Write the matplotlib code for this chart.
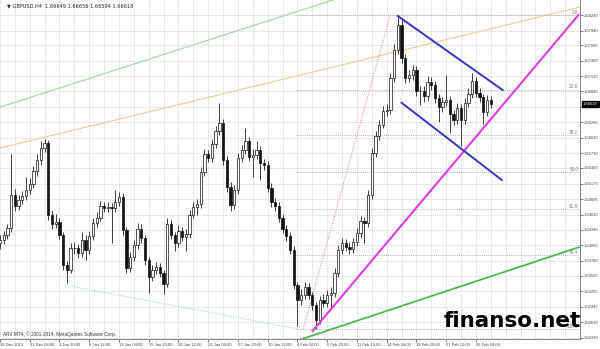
import matplotlib
matplotlib.use("Agg")
import matplotlib.pyplot as plt
import matplotlib.transforms as mtransforms

# GBPUSD, one candle per 8 hours (two H4 bars)
close = [1.6416, 1.6425, 1.6437, 1.6497, 1.6477, 1.6488, 1.6495, 1.6506, 1.6517, 1.6541,
         1.6560, 1.6582, 1.6591, 1.6461, 1.6445, 1.6448, 1.6425, 1.6370, 1.6361, 1.6401,
         1.6401, 1.6392, 1.6416, 1.6398, 1.6423, 1.6446, 1.6456, 1.6477, 1.6474, 1.6475,
         1.6474, 1.6484, 1.6493, 1.6434, 1.6365, 1.6385, 1.6407, 1.6436, 1.6419, 1.6379,
         1.6349, 1.6361, 1.6367, 1.6356, 1.6336, 1.6445, 1.6425, 1.6410, 1.6432, 1.6421,
         1.6427, 1.6461, 1.6475, 1.6481, 1.6539, 1.6571, 1.6564, 1.6589, 1.6613, 1.6627,
         1.6560, 1.6512, 1.6479, 1.6506, 1.6564, 1.6579, 1.6595, 1.6566, 1.6570, 1.6579,
         1.6555, 1.6551, 1.6510, 1.6484, 1.6477, 1.6456, 1.6436, 1.6423, 1.6398, 1.6334,
         1.6307, 1.6316, 1.6331, 1.6316, 1.6298, 1.6271, 1.6307, 1.6302, 1.6316, 1.6320,
         1.6356, 1.6398, 1.6410, 1.6403, 1.6399, 1.6412, 1.6428, 1.6450, 1.6446, 1.6497,
         1.6573, 1.6604, 1.6624, 1.6649, 1.6651, 1.6709, 1.6760, 1.6805, 1.6745, 1.6709,
         1.6714, 1.6723, 1.6685, 1.6685, 1.6676, 1.6702, 1.6696, 1.6673, 1.6656, 1.6665,
         1.6669, 1.6644, 1.6633, 1.6655, 1.6633, 1.6664, 1.6680, 1.6703, 1.6682, 1.6674,
         1.6647, 1.6669, 1.6662]
high = [1.6425, 1.6432, 1.6445, 1.6571, 1.6508, 1.6497, 1.6505, 1.6530, 1.6527, 1.6550,
        1.6572, 1.6595, 1.6598, 1.6597, 1.6470, 1.6462, 1.6455, 1.6430, 1.6378, 1.6410,
        1.6412, 1.6408, 1.6430, 1.6424, 1.6432, 1.6455, 1.6466, 1.6487, 1.6485, 1.6484,
        1.6483, 1.6506, 1.6502, 1.6500, 1.6440, 1.6394, 1.6416, 1.6446, 1.6445, 1.6425,
        1.6385, 1.6370, 1.6376, 1.6374, 1.6362, 1.6456, 1.6452, 1.6430, 1.6442, 1.6440,
        1.6436, 1.6470, 1.6484, 1.6490, 1.6548, 1.6580, 1.6578, 1.6598, 1.6622, 1.6664,
        1.6634, 1.6568, 1.6520, 1.6515, 1.6573, 1.6588, 1.6618, 1.6602, 1.6580, 1.6595,
        1.6586, 1.6563, 1.6558, 1.6518, 1.6492, 1.6484, 1.6463, 1.6443, 1.6430, 1.6405,
        1.6340, 1.6326, 1.6340, 1.6338, 1.6322, 1.6304, 1.6315, 1.6318, 1.6325, 1.6330,
        1.6365, 1.6407, 1.6420, 1.6418, 1.6412, 1.6420, 1.6437, 1.6459, 1.6458, 1.6506,
        1.6582, 1.6613, 1.6633, 1.6658, 1.6662, 1.6718, 1.6770, 1.6822, 1.6815, 1.6752,
        1.6723, 1.6733, 1.6730, 1.6695, 1.6694, 1.6712, 1.6710, 1.6704, 1.6680, 1.6674,
        1.6715, 1.6676, 1.6650, 1.6664, 1.6662, 1.6673, 1.6690, 1.6718, 1.6710, 1.6690,
        1.6680, 1.6678, 1.6676]
low = [1.6400, 1.6408, 1.6418, 1.6430, 1.6468, 1.6470, 1.6480, 1.6488, 1.6498, 1.6510,
       1.6532, 1.6552, 1.6575, 1.6452, 1.6436, 1.6437, 1.6418, 1.6362, 1.6338, 1.6355,
       1.6390, 1.6383, 1.6385, 1.6380, 1.6390, 1.6415, 1.6440, 1.6450, 1.6466, 1.6466,
       1.6410, 1.6466, 1.6478, 1.6425, 1.6356, 1.6358, 1.6378, 1.6400, 1.6410, 1.6370,
       1.6320, 1.6342, 1.6354, 1.6348, 1.6318, 1.6330, 1.6418, 1.6395, 1.6403, 1.6413,
       1.6395, 1.6420, 1.6455, 1.6460, 1.6474, 1.6532, 1.6556, 1.6557, 1.6582, 1.6606,
       1.6551, 1.6503, 1.6468, 1.6472, 1.6498, 1.6556, 1.6572, 1.6558, 1.6530, 1.6562,
       1.6524, 1.6543, 1.6502, 1.6476, 1.6468, 1.6448, 1.6428, 1.6414, 1.6390, 1.6326,
       1.6260, 1.6298, 1.6308, 1.6308, 1.6288, 1.6254, 1.6264, 1.6294, 1.6295, 1.6290,
       1.6312, 1.6348, 1.6390, 1.6395, 1.6390, 1.6392, 1.6405, 1.6420, 1.6410, 1.6440,
       1.6490, 1.6565, 1.6597, 1.6618, 1.6640, 1.6644, 1.6702, 1.6752, 1.6736, 1.6700,
       1.6701, 1.6706, 1.6677, 1.6660, 1.6666, 1.6668, 1.6688, 1.6664, 1.6630, 1.6648,
       1.6658, 1.6610, 1.6624, 1.6625, 1.6585, 1.6626, 1.6656, 1.6673, 1.6674, 1.6666,
       1.6625, 1.6640, 1.6655]
first_open = 1.6410

time_labels = ["26 Dec 2013", "31 Dec 08:00", "3 Jan 20:00", "8 Jan 12:00", "13 Jan 04:00",
               "15 Jan 20:00", "20 Jan 12:00", "23 Jan 04:00", "27 Jan 20:00", "30 Jan 12:00",
               "4 Feb 04:00", "6 Feb 20:00", "11 Feb 12:00", "14 Feb 04:00", "18 Feb 20:00",
               "21 Feb 12:00", "26 Feb 04:00"]
price_ticks = [1.68220, 1.67940, 1.67680, 1.67400, 1.67120, 1.66845, 1.66565, 1.66285,
               1.66010, 1.65730, 1.65460, 1.65175, 1.64895, 1.64615, 1.64340, 1.64060,
               1.63780, 1.63505, 1.63225, 1.62945, 1.62670, 1.62390]
last_price = 1.66618
fib_ratios = [0.0, 23.6, 38.2, 50.0, 61.8, 76.4, 100.0]

# drawing objects: (bar, price) anchors
green_top = [(0, 1.6656), (89.5, 1.6850)]
orange_top = [(0, 1.6582), (155.9, 1.6837)]
cyan_dots = [(17.5, 1.6334), (79.8, 1.6255)]
pink_dots = [(81.5, 1.6254), (105.0, 1.6823)]
magenta = [(84.1, 1.6251), (155.6, 1.6823)]
green_bottom = [(78.8, 1.6231), (155.9, 1.6403)]
blue_upper = [(107.0, 1.6821), (135.2, 1.6687)]
blue_lower = [(108.0, 1.6664), (135.0, 1.6524)]

fig = plt.figure(figsize=(6, 3.49), dpi=100)
ax = fig.add_axes([0, 10 / 349, 580 / 600, 339 / 349])
x_max = 155.9
ax.set_xlim(0, x_max)
ax.set_ylim(1.62364, 1.6850)

# grid
ax.set_xticks([8 * k for k in range(len(time_labels))])
ax.set_xticks([4 * k for k in range(40)], minor=True)
ax.set_xticklabels(time_labels, ha="left")
ax.set_yticks(price_ticks)
ax.set_yticklabels(["" if abs(p - 1.66565) < 1e-6 else f"{p:.5f}" for p in price_ticks])
ax.grid(which="both", color="#e4e4e4", lw=0.6, zorder=0)
ax.set_axisbelow(True)
ax.yaxis.tick_right()
ax.tick_params(axis="y", length=2, pad=0.8, labelsize=3.0, colors="#444444", width=0.5)
ax.tick_params(axis="x", which="major", length=2, pad=1.2, labelsize=3.0, colors="#444444", width=0.5)
ax.tick_params(axis="x", which="minor", length=0)
for lab in ax.get_yticklabels() + ax.get_xticklabels():
    lab.set_fontfamily("Liberation Sans")
for side in ["top", "left"]:
    ax.spines[side].set_visible(False)
for side in ["right", "bottom"]:
    ax.spines[side].set_color("#888888")
    ax.spines[side].set_linewidth(0.7)

# candles
xs = list(range(len(close)))
opens = [first_open] + close[:-1]
ax.vlines(xs, low, high, color="#222222", lw=0.6, zorder=3)
for x, o, c in zip(xs, opens, close):
    bottom = min(o, c)
    h = max(abs(c - o), 0.00005)
    if c >= o:
        ax.bar(x, h, bottom=bottom, width=0.62, color="white", edgecolor="#111111", lw=0.5, zorder=4)
    else:
        ax.bar(x, h, bottom=bottom, width=0.62, color="#111111", edgecolor="#111111", lw=0.5, zorder=4)

# trend lines
ax.axline(*green_top, color="#9bd89b", lw=0.8, zorder=2)
ax.axline(*orange_top, color="#f5c896", lw=0.8, zorder=2)
ax.plot(*zip(*cyan_dots), color="#9fd6ea", lw=0.8, ls=(0, (1, 1.2)), zorder=2)
ax.plot(*zip(*pink_dots), color="#e08080", lw=0.7, ls=(0, (1, 1.5)), zorder=2)
ax.plot(*zip(*green_bottom), color="#3fb54a", lw=1.2, zorder=5)
ax.plot(*zip(*magenta), color="#e03ce0", lw=1.5, zorder=5)
ax.plot(*zip(*blue_upper), color="#3535c8", lw=1.4, zorder=5)
ax.plot(*zip(*blue_lower), color="#3535c8", lw=1.4, zorder=5)

# fibonacci levels
fib_hi = max(high)
fib_lo = min(low)
for r in fib_ratios:
    lvl = fib_hi - r / 100 * (fib_hi - fib_lo)
    ax.hlines(lvl, 79.5, x_max, colors="#9a9a9a", lw=0.6, linestyles=(0, (1, 1.5)), zorder=2)
    ax.text(x_max - 0.4, lvl + 0.0001, f"{r:.1f}", ha="right", va="bottom", fontsize=3.3,
            color="#777777", family="Liberation Sans", zorder=6)

# current price box
trans = mtransforms.blended_transform_factory(ax.transAxes, ax.transData)
ax.text(1.005, last_price, f"{last_price:.5f}", transform=trans, ha="left", va="center",
        fontsize=3.0, color="white", family="Liberation Sans",
        bbox=dict(boxstyle="square,pad=0.25", fc="black", ec="black"), clip_on=False, zorder=10)

fig.text(7 / 600, 1 - 6 / 349, "\u25bc GBPUSD,H4  1.66649 1.66656 1.66594 1.66618",
         fontsize=3.6, color="#222222", va="center", ha="left")
fig.text(3 / 600, 1 - 334 / 349, "ARV MT4, \u00a9 2001-2014, MetaQuotes Software Corp.",
         fontsize=3.4, color="#333333", va="center", ha="left", family="Liberation Sans")
fig.text(444 / 600, 1 - 327 / 349, "finanso.net", fontsize=15.5, fontweight="bold",
         color="black", ha="left", va="baseline", zorder=20)

fig.savefig("out.png", dpi=100)
